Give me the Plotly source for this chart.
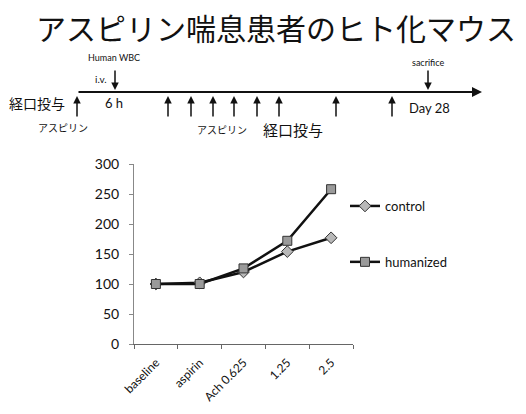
import plotly.graph_objects as go

# Response data (% of baseline)
categories = ["baseline", "aspirin", "Ach 0.625", "1.25", "2.5"]
control = [100, 102, 120, 154, 177]
humanized = [100, 100, 126, 172, 258]
y_ticks = [0, 50, 100, 150, 200, 250, 300]

W, H = 526, 414
JP = "Noto Sans CJK JP"
LAT = "Lato, Noto Sans CJK JP"


def px(x):
    return x / W


def py(y):
    return 1 - y / H


fig = go.Figure()

fig.add_trace(go.Scatter(
    x=categories, y=control, name="control", mode="lines+markers",
    line=dict(color="#111111", width=2.5),
    marker=dict(symbol="diamond", size=9, color="#b8b8b8",
                line=dict(color="#333333", width=1)),
    legendgroup="a",
))
fig.add_trace(go.Scatter(
    x=categories, y=humanized, name="humanized", mode="lines+markers",
    line=dict(color="#111111", width=2.5),
    marker=dict(symbol="square", size=9, color="#9a9a9a",
                line=dict(color="#333333", width=1)),
    legendgroup="b",
))

annotations = []


def label(text, x, y, size, family=LAT):
    annotations.append(dict(
        text=text, x=px(x), y=py(y), xref="paper", yref="paper",
        xanchor="center", yanchor="middle",
        showarrow=False, font=dict(family=family, size=size, color="#111111"),
    ))


def arrow(x, y, ax, ay, width):
    annotations.append(dict(
        text="", x=px(x), y=py(y), ax=ax, ay=ay,
        xref="paper", yref="paper", showarrow=True,
        arrowhead=2, arrowsize=1, arrowwidth=width, arrowcolor="#111111",
    ))


# Title
label("アスピリン喘息患者のヒト化マウス", 276, 27, 30, JP)

# Timeline axis with arrowhead
arrow(482, 92, -405, 0, 2)

# Oral dosing arrows (pointing up to the timeline)
dose_x = [77, 168, 191, 213, 234, 257, 279, 336, 392]
for x in dose_x:
    arrow(x, 96, 0, 22, 1.5)

# Injection and sacrifice arrows (pointing down to the timeline)
for x in [115, 428]:
    arrow(x, 90, 0, -21, 1.5)

label("Human WBC", 114, 58, 9)
label("i.v.", 101, 79, 10)
label("6 h", 114, 103, 13)
label("sacrifice", 428, 62, 9)
label("Day 28", 429, 108, 13)
label("経口投与", 37, 103, 14, JP)
label("アスピリン", 63, 127, 10, JP)
label("アスピリン", 222, 129, 10, JP)
label("経口投与", 293, 129, 15, JP)

fig.update_layout(
    width=W, height=H,
    margin=dict(l=0, r=0, t=0, b=0, autoexpand=False),
    paper_bgcolor="white", plot_bgcolor="white",
    font=dict(family=LAT, color="#111111"),
    showlegend=True,
    legend=dict(
        x=px(345), y=py(191), xanchor="left", yanchor="top",
        font=dict(family=LAT, size=13, color="#111111"),
        tracegroupgap=36, itemwidth=30, bgcolor="rgba(0,0,0,0)",
    ),
    annotations=annotations,
    xaxis=dict(
        domain=[px(134), px(353)], automargin=False,
        type="category", categoryorder="array", categoryarray=categories,
        range=[-0.5, 4.5], tickson="boundaries",
        showline=True, linecolor="#666666", linewidth=1,
        ticks="outside", ticklen=4, tickcolor="#666666",
        tickangle=-45, tickfont=dict(size=12), ticklabelstandoff=6,
        showgrid=False, zeroline=False,
    ),
    yaxis=dict(
        domain=[py(344), py(164)], automargin=False,
        range=[0, 300], tickvals=y_ticks,
        showline=True, linecolor="#888888", linewidth=1,
        ticks="outside", ticklen=4, tickcolor="#888888",
        tickfont=dict(size=14), ticklabelstandoff=7,
        showgrid=False, zeroline=False,
    ),
)

fig.write_html("out.html")
